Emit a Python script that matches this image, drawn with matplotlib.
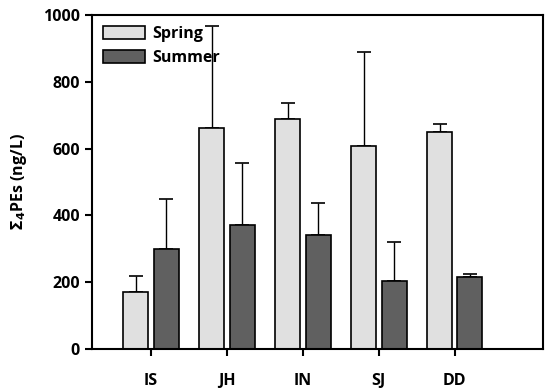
import matplotlib
matplotlib.use("Agg")
import matplotlib.pyplot as plt
import numpy as np

sites = ["IS", "JH", "IN", "SJ", "DD"]
spring = [172, 662, 688, 608, 650]
spring_err = [47, 305, 48, 282, 25]
summer = [300, 372, 340, 205, 216]
summer_err = [150, 186, 97, 115, 10]

plt.rcParams["font.family"] = ["Open Sans", "DejaVu Sans"]
plt.rcParams["font.weight"] = "bold"
fs = 11.5

fig = plt.figure(figsize=(5.5, 3.91), dpi=100)
ax = fig.add_axes([0.167, 0.107, 0.82, 0.855])

x = np.arange(len(sites))
w = 0.33
zeros = [0] * len(sites)
ax.bar(x - 0.2, spring, w, color="#e0e0e0", edgecolor="black", linewidth=1.2,
       label="Spring", zorder=2)
ax.bar(x + 0.2, summer, w, color="#606060", edgecolor="black", linewidth=1.2,
       label="Summer", zorder=2)
ax.errorbar(x - 0.2, spring, yerr=[zeros, spring_err], fmt="none", ecolor="black",
            elinewidth=1, capsize=5, capthick=1.2, zorder=1)
ax.errorbar(x + 0.2, summer, yerr=[zeros, summer_err], fmt="none", ecolor="black",
            elinewidth=1, capsize=5, capthick=1.2, zorder=1)

ax.set_xlim(-0.78, 5.16)
ax.set_ylim(0, 1000)
ax.set_yticks([0, 200, 400, 600, 800, 1000])
ax.set_xticks(x)
ax.set_xticklabels(sites, fontsize=fs, fontweight="bold")
ax.tick_params(axis="y", labelsize=fs, width=1.5, length=5)
ax.tick_params(axis="x", width=1.5, length=5, pad=12)
for lab in ax.get_yticklabels():
    lab.set_fontweight("bold")
for sp in ax.spines.values():
    sp.set_linewidth(1.5)
ax.set_ylabel(r"$\mathbf{\Sigma_4}$PEs (ng/L)", fontsize=fs, fontweight="bold", labelpad=10)

ax.legend(loc="upper left", frameon=False, fontsize=fs, handlelength=2.6,
          handleheight=0.8, handletextpad=0.5, borderaxespad=0.3, labelspacing=0.5)

fig.savefig("out.png", dpi=100)
